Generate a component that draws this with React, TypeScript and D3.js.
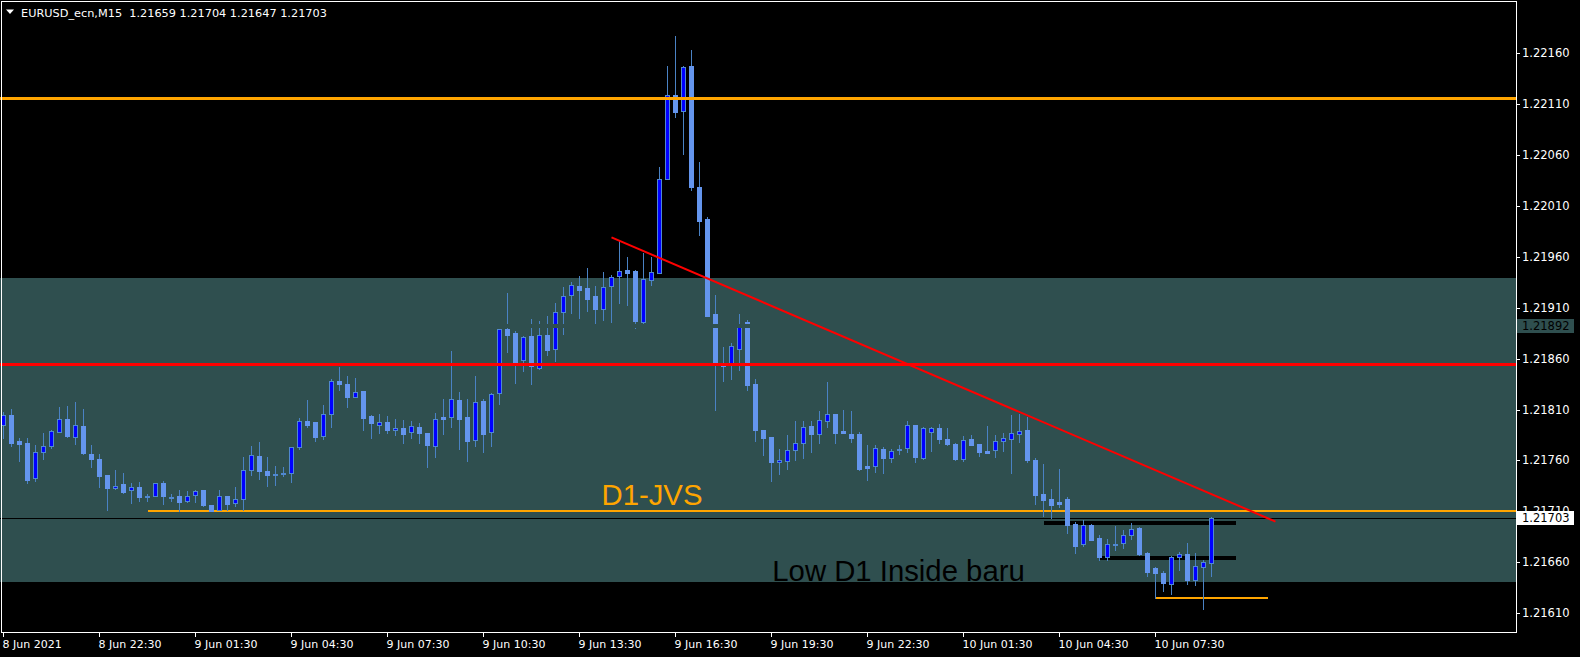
import React from 'react';
import * as d3 from 'd3';

// ---- Data (EURUSD_ecn, M15) ----
const OPEN = [
  1.21795, 1.21805, 1.21779, 1.21777, 1.21743, 1.21768, 1.21774, 1.21788, 1.21801, 1.21783,
  1.21794, 1.21766, 1.21761, 1.21746, 1.21733, 1.21737, 1.21731, 1.21734, 1.21725, 1.21725,
  1.21738, 1.21724, 1.21725, 1.21720, 1.21726, 1.21731, 1.21716, 1.21711, 1.21725, 1.21718,
  1.21722, 1.21751, 1.21764, 1.21750, 1.21747, 1.21748, 1.21748, 1.21773, 1.21799, 1.21798,
  1.21784, 1.21806, 1.21838, 1.21835, 1.21822, 1.21828, 1.21804, 1.21795, 1.21798, 1.21790,
  1.21792, 1.21788, 1.21793, 1.21787, 1.21774, 1.21803, 1.21803, 1.21819, 1.21803, 1.21780,
  1.21818, 1.21788, 1.21826, 1.21889, 1.21885, 1.21859, 1.21882, 1.21851, 1.21883, 1.21869,
  1.21906, 1.21922, 1.21931, 1.21929, 1.21921, 1.21909, 1.21931, 1.21941, 1.21947, 1.21946,
  1.21896, 1.21937, 1.21944, 1.22036, 1.22119, 1.22103, 1.22147, 1.22028, 1.21997, 1.21904,
  1.21854, 1.21855, 1.21869, 1.21896, 1.21835, 1.21790, 1.21783, 1.21758, 1.21759, 1.21770,
  1.21777, 1.21794, 1.21786, 1.21799, 1.21806, 1.21789, 1.21786, 1.21786, 1.21755, 1.21755,
  1.21771, 1.21762, 1.21771, 1.21772, 1.21795, 1.21762, 1.21788, 1.21792, 1.21781, 1.21776,
  1.21761, 1.21781, 1.21776, 1.21769, 1.21770, 1.21779, 1.21781, 1.21786, 1.21790, 1.21760,
  1.21727, 1.21722, 1.21719, 1.21722, 1.21698, 1.21678, 1.21697, 1.21684, 1.21665, 1.21678,
  1.21679, 1.21687, 1.21694, 1.21669, 1.21654, 1.21649, 1.21639, 1.21665, 1.21668, 1.21643,
  1.21655, 1.21659,
];
const HIGH = [
  1.21808, 1.21811, 1.21782, 1.21782, 1.21775, 1.21787, 1.21790, 1.21812, 1.21813, 1.21817,
  1.21811, 1.21775, 1.21766, 1.21746, 1.21751, 1.21748, 1.21738, 1.21739, 1.21727, 1.21738,
  1.21740, 1.21727, 1.21731, 1.21730, 1.21731, 1.21731, 1.21716, 1.21731, 1.21725, 1.21734,
  1.21763, 1.21774, 1.21778, 1.21763, 1.21755, 1.21754, 1.21773, 1.21802, 1.21819, 1.21798,
  1.21814, 1.21840, 1.21852, 1.21843, 1.21841, 1.21828, 1.21805, 1.21806, 1.21804, 1.21801,
  1.21800, 1.21799, 1.21797, 1.21787, 1.21807, 1.21820, 1.21867, 1.21827, 1.21820, 1.21843,
  1.21820, 1.21826, 1.21889, 1.21924, 1.21887, 1.21882, 1.21899, 1.21897, 1.21902, 1.21915,
  1.21930, 1.21935, 1.21941, 1.21949, 1.21931, 1.21945, 1.21942, 1.21975, 1.21960, 1.21947,
  1.21964, 1.21960, 1.22048, 1.22147, 1.22177, 1.22147, 1.22163, 1.22053, 1.21999, 1.21922,
  1.21871, 1.21875, 1.21904, 1.21898, 1.21840, 1.21790, 1.21783, 1.21771, 1.21785, 1.21799,
  1.21799, 1.21799, 1.21809, 1.21837, 1.21806, 1.21810, 1.21809, 1.21788, 1.21775, 1.21775,
  1.21773, 1.21771, 1.21775, 1.21799, 1.21795, 1.21793, 1.21793, 1.21796, 1.21792, 1.21777,
  1.21784, 1.21785, 1.21776, 1.21794, 1.21785, 1.21787, 1.21805, 1.21806, 1.21803, 1.21762,
  1.21757, 1.21732, 1.21752, 1.21724, 1.21700, 1.21702, 1.21698, 1.21687, 1.21683, 1.21696,
  1.21692, 1.21699, 1.21695, 1.21670, 1.21655, 1.21651, 1.21666, 1.21670, 1.21679, 1.21669,
  1.21662, 1.21704,
];
const LOW = [
  1.21782, 1.21774, 1.21759, 1.21738, 1.21740, 1.21761, 1.21772, 1.21788, 1.21783, 1.21776,
  1.21766, 1.21754, 1.21734, 1.21711, 1.21732, 1.21728, 1.21718, 1.21720, 1.21720, 1.21725,
  1.21717, 1.21720, 1.21710, 1.21719, 1.21719, 1.21715, 1.21710, 1.21711, 1.21711, 1.21715,
  1.21711, 1.21746, 1.21742, 1.21735, 1.21736, 1.21745, 1.21739, 1.21771, 1.21793, 1.21779,
  1.21781, 1.21793, 1.21829, 1.21812, 1.21822, 1.21790, 1.21782, 1.21787, 1.21787, 1.21785,
  1.21777, 1.21782, 1.21777, 1.21754, 1.21763, 1.21786, 1.21793, 1.21771, 1.21759, 1.21774,
  1.21768, 1.21774, 1.21815, 1.21866, 1.21836, 1.21848, 1.21835, 1.21850, 1.21864, 1.21858,
  1.21884, 1.21905, 1.21900, 1.21907, 1.21894, 1.21898, 1.21896, 1.21915, 1.21913, 1.21890,
  1.21894, 1.21932, 1.21944, 1.22036, 1.22097, 1.22061, 1.22026, 1.21981, 1.21902, 1.21810,
  1.21838, 1.21840, 1.21849, 1.21829, 1.21779, 1.21765, 1.21740, 1.21747, 1.21752, 1.21760,
  1.21762, 1.21768, 1.21777, 1.21793, 1.21777, 1.21787, 1.21778, 1.21751, 1.21741, 1.21749,
  1.21748, 1.21758, 1.21766, 1.21768, 1.21758, 1.21761, 1.21769, 1.21777, 1.21775, 1.21760,
  1.21759, 1.21775, 1.21764, 1.21767, 1.21763, 1.21769, 1.21748, 1.21778, 1.21758, 1.21717,
  1.21705, 1.21703, 1.21714, 1.21689, 1.21669, 1.21676, 1.21682, 1.21662, 1.21662, 1.21672,
  1.21674, 1.21683, 1.21667, 1.21647, 1.21625, 1.21632, 1.21629, 1.21652, 1.21639, 1.21638,
  1.21614, 1.21647,
];
const CLOSE = [
  1.21805, 1.21777, 1.21776, 1.21741, 1.21768, 1.21774, 1.21789, 1.21801, 1.21784, 1.21795,
  1.21767, 1.21761, 1.21745, 1.21733, 1.21735, 1.21729, 1.21734, 1.21724, 1.21725, 1.21738,
  1.21725, 1.21724, 1.21719, 1.21725, 1.21730, 1.21716, 1.21710, 1.21725, 1.21717, 1.21722,
  1.21751, 1.21765, 1.21750, 1.21746, 1.21747, 1.21748, 1.21773, 1.21799, 1.21795, 1.21783,
  1.21806, 1.21838, 1.21835, 1.21822, 1.21827, 1.21802, 1.21797, 1.21798, 1.21790, 1.21792,
  1.21786, 1.21794, 1.21787, 1.21775, 1.21801, 1.21801, 1.21820, 1.21801, 1.21779, 1.21817,
  1.21786, 1.21825, 1.21889, 1.21883, 1.21857, 1.21881, 1.21853, 1.21883, 1.21868, 1.21906,
  1.21921, 1.21932, 1.21927, 1.21919, 1.21909, 1.21930, 1.21940, 1.21946, 1.21944, 1.21897,
  1.21938, 1.21945, 1.22036, 1.22119, 1.22102, 1.22146, 1.22028, 1.21995, 1.21902, 1.21855,
  1.21853, 1.21872, 1.21893, 1.21834, 1.21790, 1.21782, 1.21758, 1.21760, 1.21770, 1.21777,
  1.21793, 1.21786, 1.21800, 1.21806, 1.21787, 1.21787, 1.21782, 1.21752, 1.21753, 1.21772,
  1.21762, 1.21769, 1.21771, 1.21795, 1.21763, 1.21792, 1.21792, 1.21781, 1.21776, 1.21761,
  1.21780, 1.21775, 1.21768, 1.21767, 1.21779, 1.21782, 1.21787, 1.21789, 1.21760, 1.21726,
  1.21721, 1.21716, 1.21717, 1.21697, 1.21676, 1.21697, 1.21682, 1.21665, 1.21678, 1.21678,
  1.21687, 1.21693, 1.21668, 1.21650, 1.21649, 1.21640, 1.21665, 1.21668, 1.21643, 1.21656,
  1.21660, 1.21703,
];

const TIME_LABELS = [
  '8 Jun 2021', '8 Jun 22:30', '9 Jun 01:30', '9 Jun 04:30', '9 Jun 07:30', '9 Jun 10:30',
  '9 Jun 13:30', '9 Jun 16:30', '9 Jun 19:30', '9 Jun 22:30', '10 Jun 01:30', '10 Jun 04:30',
  '10 Jun 07:30',
];
const BARS_PER_LABEL = 12;
const PRICE_TICKS = [
  1.2161, 1.2166, 1.2171, 1.2176, 1.2181, 1.2186, 1.2191, 1.2196, 1.2201, 1.2206, 1.2211, 1.2216,
];
const TITLE = 'EURUSD_ecn,M15  1.21659 1.21704 1.21647 1.21703';
const BID = 1.21703;
const MARK_LEVEL = 1.21892;

// chart objects (price levels / bar indices)
const ZONE = { top: 1.21939, bottom: 1.21641 };
const HLINE_TOP = 1.22115;
const HLINE_RED = 1.21854;
const JVS_LEVEL = 1.2171;
const JVS_FROM_BAR = 18;
const TREND = [
  { bar: 76, price: 1.21979 },
  { bar: 159, price: 1.217 },
];
const BLACK_SEGMENTS = [
  { from: 130, to: 154, price: 1.21699 },
  { from: 137, to: 154, price: 1.21664 },
];
const LOW_SEGMENT = { from: 144, to: 158, price: 1.21625 };
const TEXT_JVS = { label: 'D1-JVS', bar: 74.75, price: 1.21716 };
const TEXT_LOW = { label: 'Low D1 Inside baru', bar: 96.1, price: 1.21642 };

// ---- layout ----
const W = 1580;
const H = 657;
const PLOT = { left: 2, right: 1516, top: 2, bottom: 632 };
const PRICE_MIN = 1.2159156;
const PRICE_MAX = 1.2221012;
const BAR_PX = 8;
const FIRST_X = 3.5;

const COL = {
  bg: '#000000',
  frame: '#ffffff',
  zone: '#2f4f4f',
  wick: '#4a82c4',
  bullFill: '#0000ff',
  bullBorder: '#5088d0',
  bear: '#6495ed',
  orange: '#ffa500',
  red: '#ff0000',
};

const AXIS_FONT = '"DejaVu Sans", sans-serif';

export default function App() {
  const x = d3
    .scaleLinear()
    .domain([0, (PLOT.right - FIRST_X) / BAR_PX])
    .range([FIRST_X, PLOT.right]);
  const y = d3.scaleLinear().domain([PRICE_MIN, PRICE_MAX]).range([PLOT.bottom, PLOT.top]);

  const candles = OPEN.map((o, i) => {
    const h = HIGH[i];
    const l = LOW[i];
    const c = CLOSE[i];
    const cx = Math.floor(x(i)) + 0.5;
    const bull = c >= o;
    const yt = Math.round(y(Math.max(o, c)));
    const yb = Math.round(y(Math.min(o, c)));
    const bh = Math.max(1, yb - yt);
    return (
      <g key={i}>
        <line
          x1={cx}
          x2={cx}
          y1={Math.round(y(h))}
          y2={Math.round(y(l)) + 1}
          stroke={COL.wick}
          strokeWidth={1}
        />
        <rect
          x={cx - 2.5}
          y={yt}
          width={5}
          height={bh + 1}
          fill={bull ? COL.bullBorder : COL.bear}
        />
        {bull && bh > 1 ? (
          <rect x={cx - 1.5} y={yt + 1} width={3} height={bh - 1} fill={COL.bullFill} />
        ) : null}
      </g>
    );
  });

  const yMark = y(MARK_LEVEL);
  const yBid = y(BID);

  return (
    <svg
      width={W}
      height={H}
      style={{ position: 'absolute', left: 0, top: 0, display: 'block' }}
      shapeRendering="crispEdges"
    >
      <rect x={0} y={0} width={W} height={H} fill={COL.bg} />
      {/* zone */}
      <rect
        x={0}
        y={y(ZONE.top)}
        width={PLOT.right}
        height={y(ZONE.bottom) - y(ZONE.top)}
        fill={COL.zone}
      />
      {/* background objects */}
      <line
        x1={x(JVS_FROM_BAR)}
        x2={PLOT.right}
        y1={y(JVS_LEVEL)}
        y2={y(JVS_LEVEL)}
        stroke={COL.orange}
        strokeWidth={2}
      />
      {BLACK_SEGMENTS.map((s, i) => (
        <line
          key={i}
          x1={x(s.from)}
          x2={x(s.to)}
          y1={y(s.price)}
          y2={y(s.price)}
          stroke="#000"
          strokeWidth={4}
        />
      ))}
      <line
        x1={x(LOW_SEGMENT.from)}
        x2={x(LOW_SEGMENT.to)}
        y1={y(LOW_SEGMENT.price)}
        y2={y(LOW_SEGMENT.price)}
        stroke={COL.orange}
        strokeWidth={2}
      />
      <line x1={0} x2={PLOT.right} y1={yBid} y2={yBid} stroke="#000" strokeWidth={1} />
      {/* candles */}
      {candles}
      {/* level shown with zone colour over candles */}
      <line x1={0} x2={PLOT.right} y1={yMark} y2={yMark} stroke={COL.zone} strokeWidth={4} />
      {/* foreground horizontal lines */}
      <line x1={0} x2={PLOT.right} y1={y(HLINE_TOP)} y2={y(HLINE_TOP)} stroke={COL.orange} strokeWidth={3} />
      <line x1={0} x2={PLOT.right} y1={y(HLINE_RED)} y2={y(HLINE_RED)} stroke={COL.red} strokeWidth={3} />
      {/* trend line */}
      <line
        x1={x(TREND[0].bar)}
        y1={y(TREND[0].price)}
        x2={x(TREND[1].bar)}
        y2={y(TREND[1].price)}
        stroke={COL.red}
        strokeWidth={2}
        shapeRendering="auto"
      />
      {/* texts */}
      <text
        x={x(TEXT_JVS.bar)}
        y={y(TEXT_JVS.price)}
        fill={COL.orange}
        fontFamily='"Liberation Sans", Arial, sans-serif'
        fontSize={29.3}
      >
        {TEXT_JVS.label}
      </text>
      <text
        x={x(TEXT_LOW.bar)}
        y={y(TEXT_LOW.price)}
        fill="#000"
        fontFamily='"Liberation Sans", Arial, sans-serif'
        fontSize={29.3}
      >
        {TEXT_LOW.label}
      </text>
      {/* frame */}
      <rect
        x={PLOT.left - 0.5}
        y={PLOT.top - 0.5}
        width={PLOT.right - PLOT.left + 0.5}
        height={PLOT.bottom - PLOT.top + 1}
        fill="none"
        stroke={COL.frame}
        strokeWidth={1}
      />
      {/* title */}
      <path d="M6,9.5 L14,9.5 L10,14 Z" fill="#fff" shapeRendering="auto" />
      <text
        x={21}
        y={17}
        fill="#fff"
        fontFamily={AXIS_FONT}
        fontSize={11.3}
        style={{ whiteSpace: 'pre' }}
      >
        {TITLE}
      </text>
      {/* price axis */}
      {PRICE_TICKS.map((p) => (
        <g key={p}>
          <line x1={PLOT.right} x2={PLOT.right + 4} y1={Math.round(y(p)) + 0.5} y2={Math.round(y(p)) + 0.5} stroke="#fff" />
          <text x={PLOT.right + 6} y={y(p) + 4} fill="#fff" fontFamily={AXIS_FONT} fontSize={11.5}>
            {p.toFixed(5)}
          </text>
        </g>
      ))}
      <rect x={PLOT.right + 1} y={yMark - 7} width={57} height={14} fill={COL.zone} />
      <text x={PLOT.right + 6} y={yMark + 4} fill="#000" fontFamily={AXIS_FONT} fontSize={11.5}>
        {MARK_LEVEL.toFixed(5)}
      </text>
      <rect x={PLOT.right + 1} y={yBid - 7} width={57} height={14} fill="#fff" />
      <text x={PLOT.right + 6} y={yBid + 4} fill="#000" fontFamily={AXIS_FONT} fontSize={11.5}>
        {BID.toFixed(5)}
      </text>
      {/* time axis */}
      {TIME_LABELS.map((t, i) => {
        const tx = Math.floor(x(i * BARS_PER_LABEL)) + 0.5;
        return (
          <g key={t}>
            <line x1={tx} x2={tx} y1={PLOT.bottom} y2={PLOT.bottom + 5} stroke="#fff" />
            <text x={tx - 1} y={648} fill="#fff" fontFamily={AXIS_FONT} fontSize={11}>
              {t}
            </text>
          </g>
        );
      })}
    </svg>
  );
}
